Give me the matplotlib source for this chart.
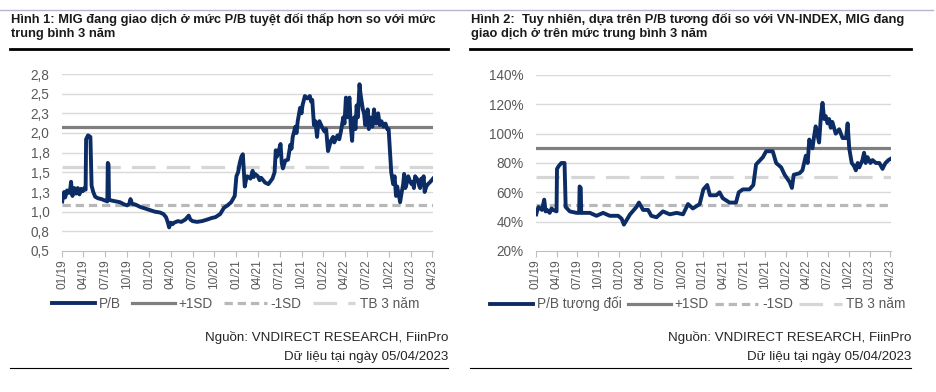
import matplotlib
matplotlib.use("Agg")
import matplotlib.pyplot as plt
import pandas as pd
from matplotlib.lines import Line2D

plt.rcParams['font.family'] = ['Liberation Sans', 'DejaVu Sans']
plt.rcParams['lines.scale_dashes'] = False

# ---------------- data ----------------
pb_dates = ["2019-01-02","2019-01-06","2019-01-10","2019-01-14","2019-01-18","2019-01-22","2019-01-25","2019-02-01",
            "2019-02-05","2019-02-08","2019-02-11","2019-02-14","2019-02-18","2019-02-22","2019-03-01","2019-03-05",
            "2019-03-08","2019-03-15","2019-03-22","2019-03-29","2019-04-05","2019-04-10","2019-04-12",
            "2019-04-20","2019-04-30","2019-05-05","2019-05-12","2019-05-20","2019-06-01","2019-06-15","2019-07-01",
            "2019-07-10","2019-07-12","2019-07-15","2019-07-17","2019-07-30","2019-08-15","2019-09-01","2019-09-20",
            "2019-10-01","2019-10-10","2019-10-15","2019-10-22","2019-11-05","2019-11-25","2019-12-15","2020-01-05",
            "2020-01-25","2020-02-15","2020-03-01","2020-03-12","2020-03-20","2020-03-25","2020-04-01","2020-04-08",
            "2020-04-15","2020-05-01","2020-05-15","2020-06-01","2020-06-15","2020-06-22","2020-07-01","2020-07-20",
            "2020-08-10","2020-09-01","2020-09-20","2020-10-05","2020-10-25","2020-11-10","2020-11-25","2020-12-10",
            "2020-12-25","2021-01-01","2021-01-08","2021-01-15","2021-01-22","2021-01-28","2021-02-05","2021-02-10",
            "2021-02-15","2021-03-01","2021-03-10","2021-03-15","2021-03-20","2021-04-01","2021-04-08","2021-04-15",
            "2021-05-01","2021-05-15","2021-06-01","2021-06-10","2021-06-15","2021-06-20","2021-06-25","2021-07-05",
            "2021-07-10","2021-07-15","2021-07-25","2021-08-05","2021-08-15","2021-08-20","2021-08-25","2021-09-05",
            "2021-09-10","2021-09-15","2021-09-25","2021-10-01","2021-10-05","2021-10-15","2021-10-25","2021-11-05",
            "2021-11-10","2021-11-15","2021-11-22","2021-11-28","2021-12-05","2021-12-10","2021-12-15","2021-12-25",
            "2022-01-05","2022-01-12","2022-01-20","2022-02-01","2022-02-10","2022-02-15","2022-03-01","2022-03-08",
            "2022-03-15","2022-03-25","2022-03-30","2022-04-05","2022-04-08","2022-04-12","2022-04-16","2022-04-20",
            "2022-04-25","2022-05-01","2022-05-05","2022-05-10","2022-05-15","2022-05-20","2022-05-25","2022-06-01",
            "2022-06-05","2022-06-10","2022-06-15","2022-06-20","2022-06-25","2022-07-01","2022-07-05","2022-07-10",
            "2022-07-15","2022-07-20","2022-07-25","2022-08-01","2022-08-05","2022-08-10","2022-08-18","2022-08-25",
            "2022-09-01","2022-09-10","2022-09-18","2022-09-25","2022-10-01","2022-10-05","2022-10-12","2022-10-20",
            "2022-10-26","2022-11-01","2022-11-06","2022-11-10","2022-11-14","2022-11-18","2022-11-25","2022-12-01",
            "2022-12-05","2022-12-10","2022-12-15","2022-12-22","2022-12-28","2023-01-05","2023-01-10","2023-01-15",
            "2023-01-20","2023-02-01","2023-02-06","2023-02-10","2023-02-15","2023-02-20","2023-02-25","2023-03-01",
            "2023-03-08","2023-03-15","2023-03-25","2023-04-05"]
pb_values = [1.13,1.22,1.25,1.18,1.22,1.27,1.24,1.24,
             1.30,1.38,1.26,1.20,1.28,1.30,1.23,1.29,
             1.30,1.22,1.29,1.26,1.30,1.28,1.92,
             1.97,1.95,1.33,1.25,1.19,1.17,1.16,1.14,
             1.13,1.62,1.60,1.15,1.14,1.13,1.12,1.09,
             1.08,1.10,1.16,1.10,1.09,1.06,1.04,1.02,
             1.00,0.99,0.97,0.93,0.86,0.80,0.86,0.84,
             0.86,0.88,0.87,0.90,0.95,0.90,0.88,0.87,
             0.88,0.90,0.92,0.93,0.97,1.05,1.08,1.12,
             1.20,1.45,1.50,1.62,1.70,1.73,1.32,1.40,
             1.45,1.42,1.52,1.44,1.48,1.45,1.40,1.43,
             1.37,1.35,1.42,1.50,1.78,1.70,1.75,1.86,
             1.62,1.55,1.65,1.66,1.85,1.80,1.95,2.08,
             2.00,2.15,2.32,2.25,2.35,2.47,2.44,2.47,
             2.40,2.42,2.10,2.15,1.95,2.12,2.15,2.08,
             2.02,2.05,1.77,1.90,1.95,1.88,1.97,1.92,
             2.02,2.20,2.12,2.45,2.25,2.20,2.40,2.45,
             2.10,1.90,2.15,2.20,2.05,2.35,2.20,2.62,
             2.50,2.40,2.30,2.25,2.10,2.15,2.30,2.05,
             2.20,2.15,2.08,2.30,2.15,2.12,2.25,2.10,
             2.15,2.08,2.12,2.05,2.05,1.85,1.50,1.35,
             1.45,1.20,1.32,1.25,1.20,1.12,1.25,1.35,
             1.48,1.30,1.35,1.45,1.40,1.35,1.38,1.30,
             1.45,1.40,1.33,1.30,1.42,1.40,1.45,1.25,
             1.32,1.35,1.38,1.42]
pb_plus1sd = 2.07
pb_minus1sd = 1.08
pb_avg3y = 1.57
pb_yticks = [0.5, 0.75, 1.0, 1.25, 1.5, 1.75, 2.0, 2.25, 2.5, 2.75]
pb_yticklabels = ["0,5","0,8","1,0","1,3","1,5","1,8","2,0","2,3","2,5","2,8"]

rel_dates = ["2019-01-02","2019-01-07","2019-01-12","2019-01-27","2019-02-06","2019-02-12","2019-02-18","2019-03-02",
             "2019-03-10","2019-03-17","2019-04-01",
             "2019-04-03","2019-04-11","2019-04-22","2019-05-06","2019-05-11","2019-05-29","2019-06-28","2019-07-09",
             "2019-07-11","2019-07-16","2019-07-18","2019-08-25","2019-09-23","2019-10-22","2019-11-20","2019-12-27",
             "2020-01-11","2020-01-21","2020-02-17","2020-03-16","2020-03-27","2020-04-14","2020-05-06","2020-05-20",
             "2020-06-12","2020-07-10","2020-08-09","2020-09-08","2020-10-06","2020-10-28","2020-11-18","2020-12-18",
             "2021-01-03","2021-01-20","2021-02-01","2021-03-01","2021-03-15","2021-03-29","2021-04-28","2021-05-26",
             "2021-06-07","2021-06-25","2021-07-24","2021-08-10","2021-08-22","2021-09-21","2021-10-05","2021-11-03",
             "2021-11-18","2021-12-10","2021-12-25","2022-01-16","2022-01-26","2022-02-03","2022-02-28","2022-03-13",
             "2022-03-28","2022-04-05","2022-04-12","2022-04-26","2022-05-03","2022-05-10","2022-05-25","2022-06-02",
             "2022-06-09","2022-06-16","2022-06-23","2022-07-01","2022-07-08","2022-07-15","2022-07-22","2022-08-06",
             "2022-08-21","2022-09-05","2022-09-20","2022-09-27","2022-10-04","2022-10-15","2022-10-25","2022-11-02",
             "2022-11-10","2022-11-17","2022-12-01","2022-12-08","2022-12-15","2022-12-23","2023-01-05","2023-01-14",
             "2023-01-29","2023-02-13","2023-02-27","2023-03-05","2023-03-12","2023-03-25","2023-04-05"]
rel_values = [45,48,50,48,55,47,48,46,
              49,48,47,
              76,78,80,80,50,47,46,46,
              64,63,46,46,44,46,44,44,
              42,38,45,50,53,48,48,44,
              43,47,45,46,45,52,49,52,
              62,65,58,58,60,56,53,53,
              60,62,62,65,79,84,88,88,
              80,77,72,67,63,72,73,75,
              85,80,96,90,98,105,94,112,
              121,110,112,107,110,104,108,100,
              103,97,97,107,90,80,78,75,
              80,77,82,87,80,84,80,82,
              80,80,76,78,80,82,83]
rel_plus1sd = 90.4
rel_minus1sd = 51.5
rel_avg3y = 70.5
rel_yticks = [20, 40, 60, 80, 100, 120, 140]
rel_yticklabels = ["20%","40%","60%","80%","100%","120%","140%"]

xtick_dates = ["2019-01-01","2019-04-01","2019-07-01","2019-10-01","2020-01-01","2020-04-01","2020-07-01",
               "2020-10-01","2021-01-01","2021-04-01","2021-07-01","2021-10-01","2022-01-01","2022-04-01",
               "2022-07-01","2022-10-01","2023-01-01","2023-04-01"]
xtick_labels = ["01/19","04/19","07/19","10/19","01/20","04/20","07/20","10/20","01/21","04/21","07/21",
                "10/21","01/22","04/22","07/22","10/22","01/23","04/23"]

title1 = "Hình 1: MIG đang giao dịch ở mức P/B tuyệt đối thấp hơn so với mức\ntrung bình 3 năm"
title2 = "Hình 2:  Tuy nhiên, dựa trên P/B tương đối so với VN-INDEX, MIG đang\ngiao dịch ở trên mức trung bình 3 năm"
legend1 = ["P/B", "+1SD", "-1SD", "TB 3 năm"]
legend2 = ["P/B tương đối", "+1SD", "-1SD", "TB 3 năm"]
source = "Nguồn: VNDIRECT RESEARCH, FiinPro"
asof = "Dữ liệu tại ngày 05/04/2023"

# ---------------- styles ----------------
NAVY = "#0c2c66"
SD_PLUS = "#7f7f7f"
SD_MINUS = "#b8b8b8"
AVG = "#d6d6d6"
GRID = "#d9d9d9"
TXT = "#595959"

W, H = 937, 392
fig = plt.figure(figsize=(W / 100, H / 100), dpi=100)

def fx(px):
    return px / W

def fy(py):
    return 1 - py / H

def panel(rect, dates, values, p1, m1, avg, yticks, yticklabels, legend_labels, title, x_left, x_right,
          leg_anchor, colsp):
    ax = fig.add_axes(rect)
    d = pd.to_datetime(dates)
    xstart = pd.Timestamp("2019-01-01")
    xend = pd.Timestamp("2023-04-05")
    ax.set_xlim(xstart, xend)
    ax.set_ylim(yticks[0], yticks[-1])
    for yv in yticks[1:]:
        ax.axhline(yv, color=GRID, lw=1.0, zorder=0)
    l_avg, = ax.plot([xstart, xend], [avg, avg], color=AVG, lw=2.3, dashes=(17, 8), zorder=1)
    l_m1, = ax.plot([xstart, xend], [m1, m1], color=SD_MINUS, lw=2.3, dashes=(6, 3.5), zorder=1)
    l_p1, = ax.plot([xstart, xend], [p1, p1], color=SD_PLUS, lw=2.3, zorder=1)
    l_main, = ax.plot(d, values, color=NAVY, lw=2.8, zorder=3, solid_joinstyle='round')
    ax.set_yticks(yticks)
    ax.set_yticklabels(yticklabels, fontsize=9.8, color=TXT)
    ax.set_xticks(pd.to_datetime(xtick_dates))
    ax.set_xticklabels(xtick_labels, rotation=90, fontsize=8.6, color=TXT)
    for s in ["top", "right", "left"]:
        ax.spines[s].set_visible(False)
    ax.spines["bottom"].set_color("#bfbfbf")
    ax.tick_params(axis="y", length=0, pad=9)
    ax.tick_params(axis="x", length=4, color="#bfbfbf", pad=2)
    leg = fig.legend([l_main, l_p1, l_m1, l_avg], legend_labels, loc="center left",
                     bbox_to_anchor=leg_anchor, ncol=4, frameon=False, fontsize=9.8,
                     handlelength=3.15, handletextpad=0.3, columnspacing=colsp, borderaxespad=0,
                     borderpad=0)
    for t in leg.get_texts():
        t.set_color(TXT)
    fig.text(fx(x_left + 1), fy(13), title, fontsize=9.3, fontweight="bold", color="#1a1a1a",
             va="top", ha="left", linespacing=1.2)
    fig.add_artist(Line2D([fx(x_left), fx(x_right)], [fy(49), fy(49)], color="black", lw=2.0))
    fig.add_artist(Line2D([fx(x_left), fx(x_right)], [fy(368), fy(368)], color="black", lw=0.8))
    fig.text(fx(x_right), fy(338), source, fontsize=9.6, color="#262626", ha="right", va="center")
    fig.text(fx(x_right), fy(357), asof, fontsize=9.6, color="#262626", ha="right", va="center")
    return ax

fig.add_artist(Line2D([0, fx(933)], [fy(10), fy(10)], color="#b4b4cc", lw=1.0))

panel([fx(62), fy(251), fx(433) - fx(62), fy(74) - fy(251)], pb_dates, pb_values,
      pb_plus1sd, pb_minus1sd, pb_avg3y, pb_yticks, pb_yticklabels, legend1, title1, 10, 448,
      (fx(52), fy(304)), 0.8)
panel([fx(536), fy(251), fx(891) - fx(536), fy(75) - fy(251)], rel_dates, rel_values,
      rel_plus1sd, rel_minus1sd, rel_avg3y, rel_yticks, rel_yticklabels, legend2, title2, 470, 911,
      (fx(490), fy(304)), 0.45)

fig.savefig("out.png", dpi=100)
